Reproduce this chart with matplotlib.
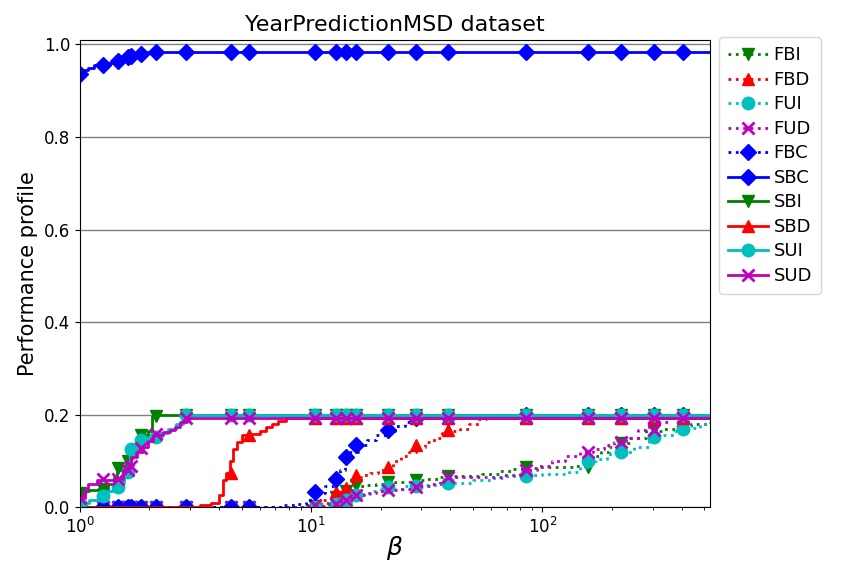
import numpy as np
import matplotlib
matplotlib.use('Agg')
import matplotlib.pyplot as plt
from matplotlib.lines import Line2D

# tau values where the markers sit (shared by all curves)
tau_mark = [1.0, 1.26, 1.46, 1.61, 1.66, 1.83, 2.13, 2.87, 4.49, 5.37, 10.4,
            12.8, 14.2, 15.7, 21.4, 28.3, 38.9, 85.3, 158, 219, 305, 406]

# step curves: breakpoints (tau) and profile value (rho)
tau_fbi = [1, 10, 11.5, 12.5, 13.5, 14.5, 15.5, 17, 19, 23, 27, 31, 36, 42, 55, 65, 75, 82, 95,
           140, 155, 165, 180, 195, 210, 240, 280, 330, 380, 440, 530]
rho_fbi = [0, 0.002, 0.01, 0.022, 0.03, 0.038, 0.045, 0.048, 0.05, 0.055, 0.058, 0.062, 0.065,
           0.068, 0.072, 0.078, 0.082, 0.085, 0.087, 0.09, 0.095, 0.11, 0.12, 0.13, 0.138, 0.15,
           0.165, 0.17, 0.175, 0.18, 0.185]
mark_fbi = [0, 0, 0, 0, 0, 0, 0, 0, 0, 0, 0.002, 0.022, 0.035, 0.047, 0.055, 0.058, 0.068,
            0.087, 0.087, 0.138, 0.17, 0.173]

tau_fbd = [1, 9.5, 11, 12.3, 13.5, 14.5, 15.5, 16.5, 18, 19.5, 21, 22.5, 24.5, 26.5, 28.5, 31,
           34, 37, 40, 44, 48, 53, 57, 530]
rho_fbd = [0, 0.005, 0.015, 0.03, 0.04, 0.05, 0.065, 0.07, 0.075, 0.08, 0.085, 0.1, 0.11, 0.12,
           0.13, 0.14, 0.15, 0.16, 0.165, 0.17, 0.18, 0.19, 0.195, 0.195]
mark_fbd = [0, 0, 0, 0, 0, 0, 0, 0, 0, 0, 0.005, 0.033, 0.041, 0.069, 0.086, 0.134, 0.166,
            0.195, 0.195, 0.195, 0.195, 0.195]

tau_fui = [1, 11.5, 13, 14.5, 16, 18, 20, 25, 30, 35, 40, 50, 60, 70, 80, 100, 130, 145, 155,
           170, 190, 220, 250, 290, 320, 370, 420, 480, 530]
rho_fui = [0, 0.004, 0.01, 0.02, 0.028, 0.035, 0.04, 0.045, 0.047, 0.05, 0.053, 0.058, 0.063,
           0.068, 0.07, 0.072, 0.076, 0.085, 0.1, 0.105, 0.115, 0.12, 0.13, 0.15, 0.155, 0.165,
           0.172, 0.18, 0.18]
mark_fui = [0, 0, 0, 0, 0, 0, 0, 0, 0, 0, 0, 0.008, 0.015, 0.026, 0.043, 0.045, 0.052, 0.068,
            0.1, 0.119, 0.152, 0.17]

tau_fud = [1, 9.8, 11.5, 12.5, 13.5, 15, 17, 19, 21, 24, 27, 30, 33, 36, 40, 60, 68, 80, 95,
           110, 125, 145, 165, 185, 205, 230, 260, 290, 320, 350, 530]
rho_fud = [0, 0.002, 0.006, 0.01, 0.015, 0.026, 0.03, 0.035, 0.037, 0.04, 0.042, 0.045, 0.05,
           0.058, 0.065, 0.065, 0.07, 0.08, 0.09, 0.1, 0.11, 0.119, 0.125, 0.135, 0.141, 0.15,
           0.166, 0.175, 0.185, 0.195, 0.195]
mark_fud = [0, 0, 0, 0, 0, 0, 0, 0, 0, 0, 0.004, 0.008, 0.015, 0.026, 0.037, 0.044, 0.065,
            0.08, 0.119, 0.141, 0.166, 0.195]

tau_fbc = [1, 7.5, 8.5, 9.5, 10.2, 11.5, 12.5, 13.3, 14, 14.8, 16, 17.5, 19, 21, 23, 25.5, 27,
           29, 45, 56, 530]
rho_fbc = [0, 0.004, 0.008, 0.015, 0.03, 0.045, 0.06, 0.08, 0.1, 0.12, 0.135, 0.145, 0.155,
           0.165, 0.175, 0.185, 0.19, 0.193, 0.195, 0.2, 0.2]
mark_fbc = [0, 0, 0, 0, 0, 0, 0, 0, 0, 0, 0.033, 0.062, 0.108, 0.134, 0.166, 0.192, 0.195,
            0.2, 0.2, 0.2, 0.2, 0.2]

tau_sbc = [1.0, 1.02, 1.08, 1.15, 1.3, 1.42, 1.55, 1.65, 1.75, 1.95, 530]
rho_sbc = [0.93, 0.945, 0.95, 0.955, 0.96, 0.965, 0.97, 0.975, 0.98, 0.983, 0.983]
mark_sbc = [0.935, 0.955, 0.965, 0.972, 0.975, 0.98] + [0.983] * 16

tau_sbi = [1.0, 1.05, 1.1, 1.2, 1.32, 1.4, 1.45, 1.5, 1.58, 1.65, 1.75, 1.85, 1.97, 2.05, 2.15, 530]
rho_sbi = [0.03, 0.035, 0.037, 0.04, 0.05, 0.065, 0.08, 0.088, 0.1, 0.11, 0.13, 0.155, 0.165,
           0.198, 0.2, 0.2]
mark_sbi = [0.03, 0.04, 0.085, 0.1, 0.11, 0.155, 0.198] + [0.2] * 15

tau_sbd = [1, 3.3, 3.7, 4.0, 4.15, 4.3, 4.45, 4.6, 4.8, 5.0, 5.5, 6.0, 6.4, 6.8, 7.2, 7.8, 530]
rho_sbd = [0, 0.004, 0.01, 0.026, 0.058, 0.075, 0.1, 0.125, 0.14, 0.155, 0.158, 0.165, 0.173,
           0.18, 0.187, 0.193, 0.193]
mark_sbd = [np.nan] * 8 + [0.075, 0.157] + [0.193] * 12

tau_sui = [1.0, 1.05, 1.1, 1.2, 1.3, 1.4, 1.5, 1.55, 1.62, 1.65, 1.7, 1.8, 1.9, 2.0, 2.2, 2.4,
           2.6, 2.8, 3.0, 530]
rho_sui = [0.005, 0.01, 0.015, 0.025, 0.035, 0.044, 0.055, 0.065, 0.076, 0.11, 0.13, 0.145,
           0.15, 0.152, 0.16, 0.17, 0.18, 0.19, 0.2, 0.2]
mark_sui = [0.005, 0.025, 0.044, 0.076, 0.125, 0.145, 0.152] + [0.2] * 15

tau_sud = [1.0, 1.05, 1.08, 1.18, 1.45, 1.53, 1.61, 1.67, 1.76, 1.87, 1.97, 2.07, 2.28, 2.45,
           2.57, 2.7, 2.9, 530]
rho_sud = [0.02, 0.04, 0.05, 0.058, 0.062, 0.08, 0.09, 0.108, 0.119, 0.13, 0.144, 0.155, 0.162,
           0.166, 0.173, 0.184, 0.193, 0.193]
mark_sud = [0.02, 0.062, 0.062, 0.08, 0.09, 0.127, 0.159] + [0.193] * 15

names = ['FBI', 'FBD', 'FUI', 'FUD', 'FBC', 'SBC', 'SBI', 'SBD', 'SUI', 'SUD']
curves = [(tau_fbi, rho_fbi, mark_fbi), (tau_fbd, rho_fbd, mark_fbd), (tau_fui, rho_fui, mark_fui),
          (tau_fud, rho_fud, mark_fud), (tau_fbc, rho_fbc, mark_fbc), (tau_sbc, rho_sbc, mark_sbc),
          (tau_sbi, rho_sbi, mark_sbi), (tau_sbd, rho_sbd, mark_sbd), (tau_sui, rho_sui, mark_sui),
          (tau_sud, rho_sud, mark_sud)]
colores = ['g', 'r', 'c', 'm', 'b', 'b', 'g', 'r', 'c', 'm']
marcas = ['v', '^', 'o', 'x', 'D', 'D', 'v', '^', 'o', 'x']
estilos = [':', ':', ':', ':', ':', '-', '-', '-', '-', '-']

fig = plt.figure(figsize=(8.41, 5.68), dpi=100)
ax = fig.add_axes([0.095, 0.107, 0.749, 0.823])

handles = []
for nombre, (tx, ry, my), c, mk, ls in zip(names, curves, colores, marcas, estilos):
    ax.plot(tx, ry, color=c, ls=ls, lw=2, drawstyle='steps-post')
    ms = 8 if mk == 'D' else 9
    mew = 2 if mk == 'x' else 1
    ax.plot(tau_mark, my, color=c, marker=mk, ls='none', ms=ms, mew=mew)
    handles.append(Line2D([], [], color=c, ls=ls, lw=2, marker=mk, ms=ms, mew=mew, label=nombre))

ax.set_xscale('log')
ax.set_xlim(1, 530)
ax.set_ylim(0, 1.01)
ax.set_yticks([0, 0.2, 0.4, 0.6, 0.8, 1.0])
ax.yaxis.grid(True, color='gray', lw=1)
ax.tick_params(labelsize=12)
ax.set_title('YearPredictionMSD dataset', fontsize=16)
ax.set_ylabel('Performance profile', fontsize=15)
ax.set_xlabel(r'$\beta$', fontsize=18, labelpad=-2)
ax.legend(handles=handles, loc='upper left', bbox_to_anchor=(1.015, 1.005), borderaxespad=0,
          fontsize=13, handlelength=2.2, labelspacing=0.36, handletextpad=0.3, borderpad=0.5)

plt.savefig('out.png', dpi=100)
